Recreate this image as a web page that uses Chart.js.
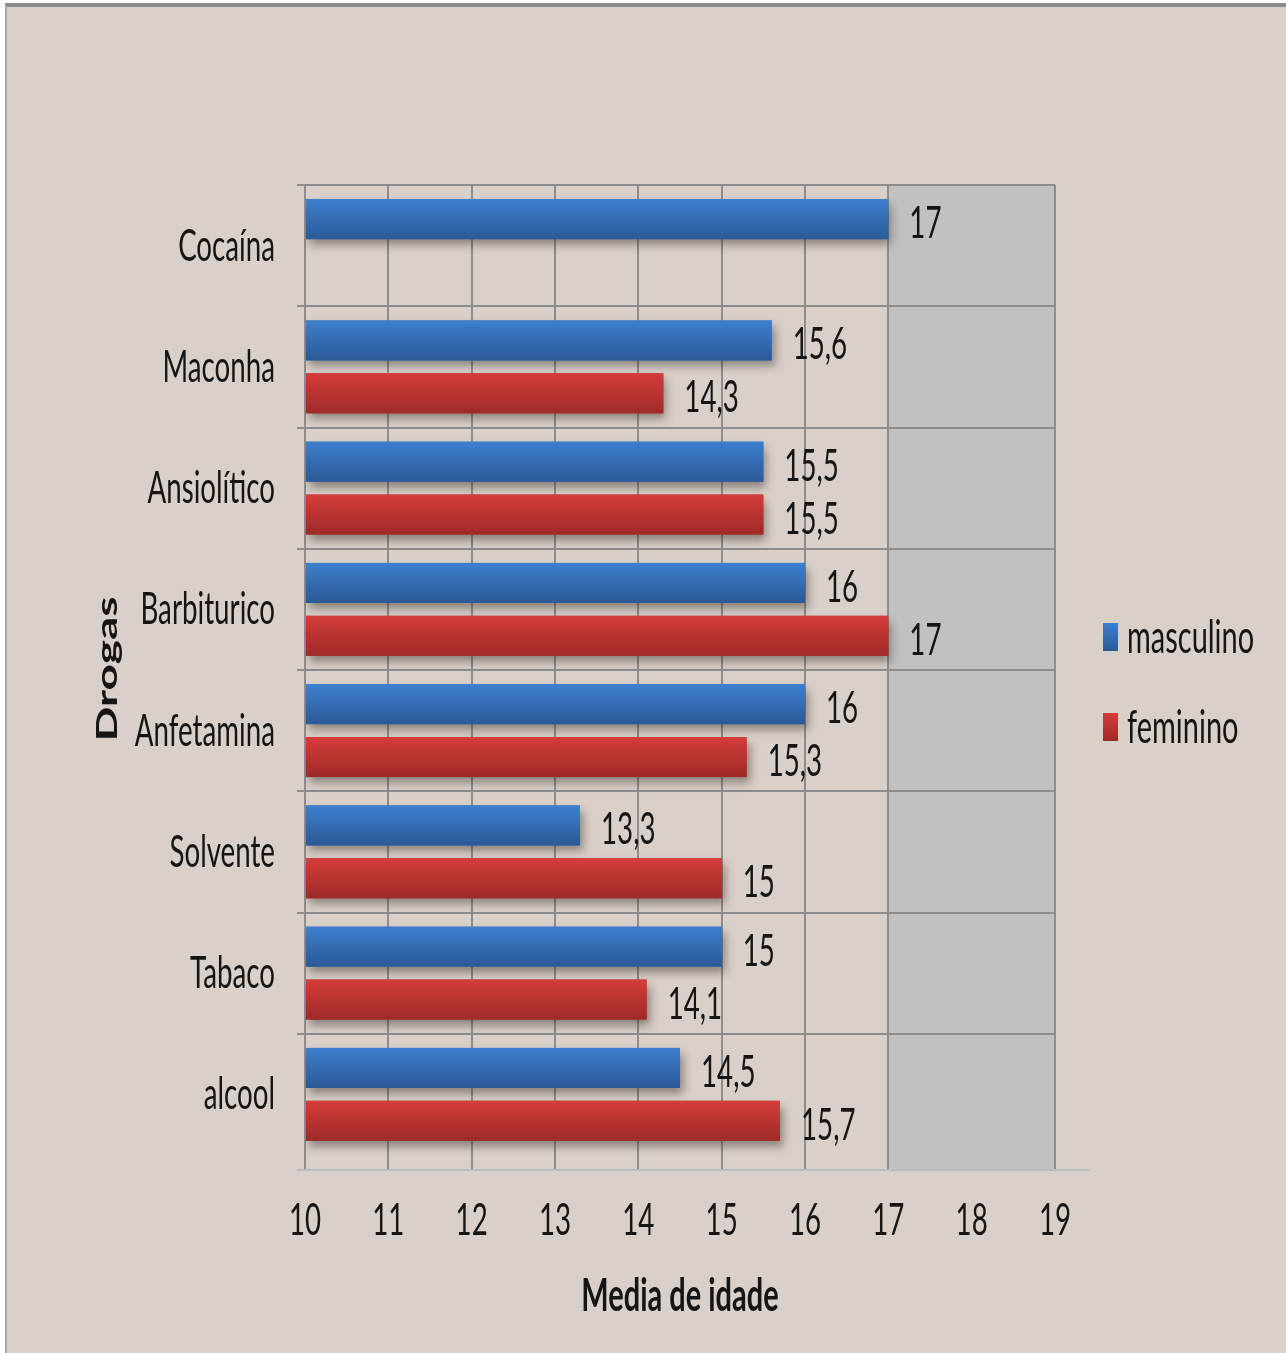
<!DOCTYPE html>
<html lang="pt">
<head>
<meta charset="utf-8">
<title>Media de idade por droga</title>
<script src="https://cdn.jsdelivr.net/npm/chart.js@4.4.1/dist/chart.umd.min.js"></script>
<style>
  html, body { margin: 0; padding: 0; background: #fff; }
  #frame {
    position: absolute; left: 5px; top: 3px; width: 1281px; height: 1350px;
    background: #d9d0c9; border-top: 4px solid #8a8a8a; border-left: 2px solid #ababab;
    box-sizing: border-box;
  }
  #chart { position: absolute; left: 0; top: 0; }
</style>
</head>
<body>
<div id="frame"></div>
<canvas id="chart" width="1286" height="1353"></canvas>
<script>
const drugs = ['Cocaína', 'Maconha', 'Ansiolítico', 'Barbiturico', 'Anfetamina', 'Solvente', 'Tabaco', 'alcool'];
const masculino = [17, 15.6, 15.5, 16, 16, 13.3, 15, 14.5];
const feminino = [null, 14.3, 15.5, 17, 15.3, 15, 14.1, 15.7];
const ageMin = 10;
const ageMax = 19;
const shadedFrom = 17;

const blue = { flat: '#3469b0', top: '#3d7fcf', bottom: '#2b5997' };
const red = { flat: '#bd3431', top: '#d43d3a', bottom: '#9e2a27' };

// gap between the last category and the value axis line
const AXIS_GAP = 15;

// text in this chart is narrow and tall, so everything is drawn squeezed sideways
const SQUEEZE = 0.63;
const regularFont = '44px Lato';
const legendFont = '46px Lato';
const boldFont = 'bold 46px Lato';

function squeezedText(ctx, str, x, y, font, align, rotate) {
  ctx.save();
  ctx.translate(x, y);
  ctx.scale(SQUEEZE, 1);
  if (rotate) ctx.rotate(-Math.PI / 2);
  ctx.font = font;
  ctx.textAlign = align;
  ctx.textBaseline = 'alphabetic';
  ctx.fillStyle = '#151515';
  ctx.fillText(str, 0, 0);
  ctx.restore();
}

function fmt(v) {
  return String(v).replace('.', ',');
}

function gradientRect(ctx, colors, left, top, width, height) {
  const g = ctx.createLinearGradient(0, top, 0, top + height);
  g.addColorStop(0, colors.top);
  g.addColorStop(1, colors.bottom);
  ctx.fillStyle = g;
  ctx.fillRect(left, top, width, height);
}

const decor = {
  id: 'decor',
  beforeDraw(chart) {
    const { ctx, chartArea, scales } = chart;
    const x1 = scales.x.getPixelForValue(shadedFrom);
    const x2 = scales.x.getPixelForValue(ageMax);
    ctx.save();
    ctx.fillStyle = '#c1c1c1';
    ctx.fillRect(x1, chartArea.top, x2 - x1, chartArea.bottom - chartArea.top + AXIS_GAP);
    ctx.restore();
  },
  beforeDatasetsDraw(chart) {
    const ctx = chart.ctx;
    ctx.save();
    ctx.shadowColor = 'rgba(40, 30, 25, 0.45)';
    ctx.shadowBlur = 9;
    ctx.shadowOffsetX = 3;
    ctx.shadowOffsetY = 6;
  },
  afterDatasetsDraw(chart) {
    const ctx = chart.ctx;
    ctx.restore();
    chart.data.datasets.forEach((ds, di) => {
      const colors = di === 0 ? blue : red;
      chart.getDatasetMeta(di).data.forEach((bar, i) => {
        const v = ds.data[i];
        if (v === null) return;
        const p = bar.getProps(['x', 'y', 'base', 'height'], true);
        const left = Math.min(p.base, p.x);
        gradientRect(ctx, colors, left, p.y - p.height / 2, Math.abs(p.x - p.base), p.height);
        squeezedText(ctx, fmt(v), p.x + 21, p.y + 19, regularFont, 'left');
      });
    });
  },
  afterDraw(chart) {
    const { ctx, chartArea, scales } = chart;
    const midY = (chartArea.top + chartArea.bottom) / 2;
    const axisY = chartArea.bottom + AXIS_GAP;

    // value axis line, a little below the last category
    ctx.save();
    ctx.strokeStyle = '#b7bfc4';
    ctx.lineWidth = 2;
    ctx.beginPath();
    ctx.moveTo(chartArea.left - 8, axisY);
    ctx.lineTo(chartArea.right + 35, axisY);
    ctx.stroke();
    ctx.restore();

    // category names
    drugs.forEach((name, i) => {
      squeezedText(ctx, name, chartArea.left - 30, scales.y.getPixelForTick(i) + 15, regularFont, 'right');
    });

    // age ticks
    scales.x.ticks.forEach(t => {
      squeezedText(ctx, String(t.value), scales.x.getPixelForValue(t.value), axisY + 65, regularFont, 'center');
    });

    // axis titles
    squeezedText(ctx, 'Media de idade', (chartArea.left + chartArea.right) / 2, axisY + 141, boldFont, 'center');
    squeezedText(ctx, 'Drogas', 117, midY - 1, boldFont, 'center', true);

    // legend
    const lx = chartArea.right + 48;
    [['masculino', blue, midY - 47], ['feminino', red, midY + 43]].forEach(([label, colors, top]) => {
      gradientRect(ctx, colors, lx, top, 15, 28);
      squeezedText(ctx, label, lx + 24, top + 30, legendFont, 'left');
    });
  }
};

new Chart(document.getElementById('chart'), {
  type: 'bar',
  data: {
    labels: drugs,
    datasets: [
      { label: 'masculino', data: masculino, backgroundColor: blue.flat, base: ageMin },
      { label: 'feminino', data: feminino, backgroundColor: red.flat, base: ageMin }
    ]
  },
  options: {
    indexAxis: 'y',
    responsive: false,
    devicePixelRatio: 1,
    animation: false,
    categoryPercentage: 0.874,
    barPercentage: 0.755,
    layout: { padding: { top: 185, right: 231, bottom: 0, left: 0 } },
    plugins: {
      legend: { display: false },
      tooltip: { enabled: false }
    },
    scales: {
      x: {
        type: 'linear',
        min: ageMin,
        max: ageMax,
        ticks: { stepSize: 1, display: false },
        grid: {
          lineWidth: 2,
          drawTicks: true,
          tickLength: AXIS_GAP,
          // no inner lines across the shaded band
          color: c => (c.tick && c.tick.value > shadedFrom && c.tick.value < ageMax ? 'rgba(0,0,0,0)' : '#8d8d8d')
        },
        border: { display: false },
        afterFit(scale) { scale.height = 198; }
      },
      y: {
        ticks: { display: false },
        grid: {
          offset: true,
          lineWidth: 2,
          tickLength: 8,
          color: c => (c.index === undefined ? 'rgba(0,0,0,0)' : '#8d8d8d')
        },
        border: { color: '#8d8d8d', width: 2 },
        afterFit(scale) { scale.width = 305; }
      }
    }
  },
  plugins: [decor]
});
</script>
</body>
</html>
